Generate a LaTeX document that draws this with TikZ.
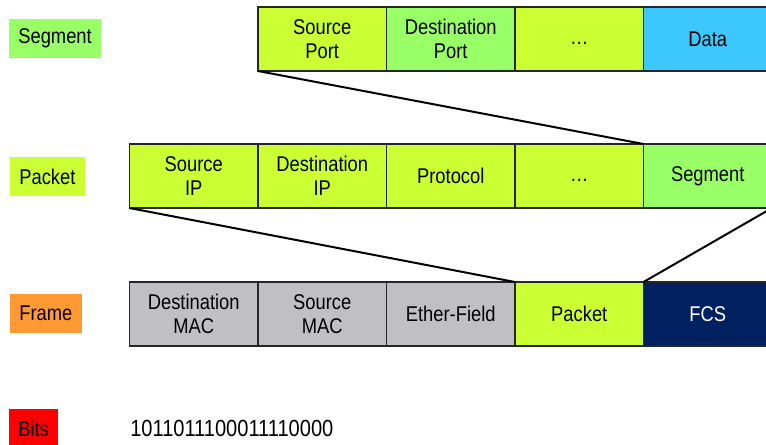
\documentclass[tikz,border=0pt]{standalone}
\usepackage{fontspec}
\setmainfont{Liberation Sans}[FakeStretch=0.86]
\usetikzlibrary{positioning}

\definecolor{fieldlime}{HTML}{CCFF33}
\definecolor{fieldgreen}{HTML}{99FF66}
\definecolor{fieldblue}{HTML}{3CC8FF}
\definecolor{fieldgrey}{HTML}{C0BFC4}
\definecolor{fieldnavy}{HTML}{002060}
\definecolor{framelabel}{HTML}{FF9933}
\definecolor{bitslabel}{HTML}{FF0000}

\begin{document}
\begin{tikzpicture}[x=0.75pt,y=-0.75pt,
  field/.style={draw=black!85, line width=0.8pt, minimum width=96.375pt,
    minimum height=48pt, outer sep=0pt, inner sep=1pt, align=center,
    font=\fontsize{16}{18}\selectfont},
  layer/.style={anchor=west, minimum height=29.25pt, inner xsep=7pt,
    outer sep=0pt, font=\fontsize{16}{18}\selectfont},
  wrap/.style={line width=1.5pt}]
\useasboundingbox (0,0) rectangle (766,444);
%layer names
\node[layer, fill=fieldgreen] (lseg) at (9,38.5) {Segment};
\node[layer, fill=fieldlime] (lpkt) at (10,176.5) {Packet};
\node[layer, fill=framelabel] (lfrm) at (10,313.5) {Frame};
\node[layer, fill=bitslabel] (lbits) at (9,428.5) {Bits};
%segment
\node[field, fill=fieldlime] (sport) at (322.25,39) {Source\\Port};
\node[field, fill=fieldgreen, right=0pt of sport] (dport) {Destination\\Port};
\node[field, fill=fieldlime, right=0pt of dport] (sdots) {\vphantom{Ag}\dots};
\node[field, fill=fieldblue, right=0pt of sdots] (data) {Data};
%packet
\node[field, fill=fieldlime] (sip) at (193.75,176) {Source\\IP};
\node[field, fill=fieldlime, right=0pt of sip] (dip) {Destination\\IP};
\node[field, fill=fieldlime, right=0pt of dip] (proto) {Protocol};
\node[field, fill=fieldlime, right=0pt of proto] (pdots) {\vphantom{Ag}\dots};
\node[field, fill=fieldgreen, right=0pt of pdots] (pseg) {Segment};
%frame
\node[field, fill=fieldgrey] (dmac) at (193.75,314) {Destination\\MAC};
\node[field, fill=fieldgrey, right=0pt of dmac] (smac) {Source\\MAC};
\node[field, fill=fieldgrey, right=0pt of smac] (ether) {Ether-Field};
\node[field, fill=fieldlime, right=0pt of ether] (fpkt) {Packet};
\node[field, fill=fieldnavy, text=white, right=0pt of fpkt] (fcs) {FCS};
%bits
\node[anchor=west, inner sep=0pt, font=\fontsize{17.5}{19}\selectfont] (bits) at (130,428.5) {1011011100011110000};
%encapsulation
\draw[wrap] (sport.south west) -- (pseg.north west);
\draw[wrap] (sip.south west) -- (fpkt.north west);
\draw[wrap] (pseg.south east) -- (fcs.north west);
\end{tikzpicture}
\end{document}
